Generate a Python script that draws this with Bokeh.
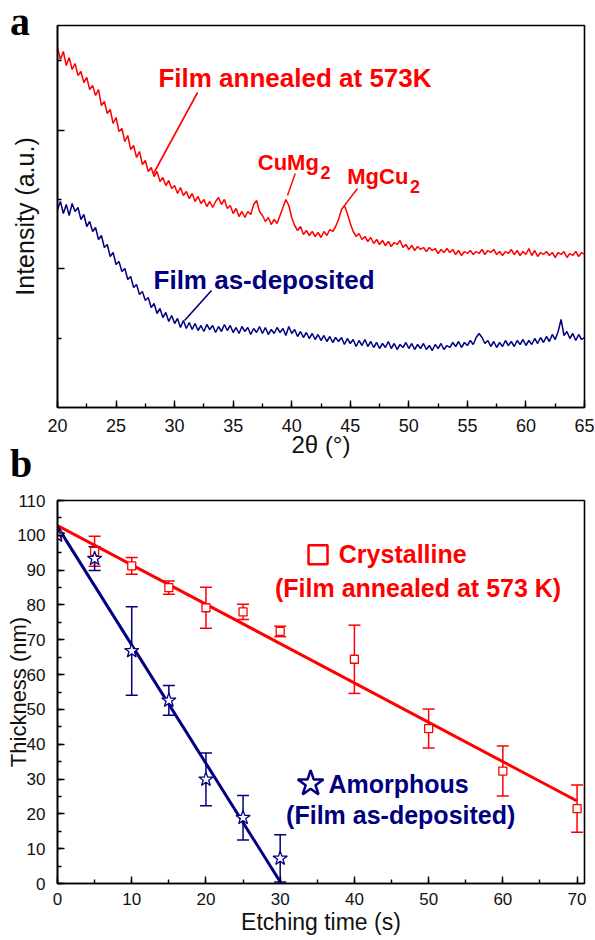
import numpy as np
from bokeh.plotting import figure
from bokeh.layouts import column
from bokeh.models import (ColumnDataSource, Whisker, TeeHead, SingleIntervalTicker,
                          FixedTicker, Label, CustomJSTickFormatter, Div)
from bokeh.embed import file_html
from bokeh.resources import INLINE

RED = "#ff0000"
NAVY = "#000080"
FONT = "Liberation Sans"

# ---------------- panel a : XRD patterns (arbitrary intensity units) ----------------
two_theta = np.linspace(20, 65, 181)  # 0.25 degree sampling
annealed = [
    360, 348, 356, 342,
    350, 338, 344, 332,
    336, 325, 330, 318,
    322, 312, 318, 302,
    306, 294, 298, 284,
    290, 276, 279, 266,
    272, 258, 262, 250,
    256, 243, 247, 236,
    240, 231, 236, 226,
    230, 222, 227, 219,
    222, 214, 220, 212,
    216, 209, 214, 206,
    211, 204, 208, 201,
    206, 200, 206, 210,
    203, 208, 199, 202,
    194, 199, 191, 196,
    190, 196, 193, 203,
    207, 196, 192, 186,
    190, 183, 188, 184,
    192, 200, 208, 202,
    190, 182, 177, 181,
    173, 177, 172, 176,
    171, 175, 170, 176,
    172, 178, 176, 181,
    188, 198, 202, 194,
    184, 176, 171, 174,
    168, 171, 166, 170,
    164, 168, 163, 167,
    162, 166, 161, 165,
    163, 167, 160, 163,
    158, 162, 157, 161,
    158, 160, 156, 160,
    157, 159, 154, 158,
    155, 159, 155, 158,
    153, 157, 152, 156,
    154, 157, 153, 156,
    154, 158, 153, 157,
    155, 158, 153, 156,
    152, 156, 154, 158,
    153, 157, 152, 156,
    153, 159, 152, 157,
    151, 155, 153, 156,
    152, 155, 150, 155,
    153, 156, 150, 154,
    152, 156, 151, 155,
    153,
]
deposited = [
    198, 206, 194, 203,
    192, 204, 196, 200,
    188, 193, 181, 186,
    176, 180, 168, 172,
    160, 163, 151, 155,
    143, 146, 136, 139,
    128, 131, 120, 123,
    113, 116, 107, 110,
    100, 104, 94, 99,
    90, 95, 86, 92,
    84, 89, 80, 87,
    79, 85, 78, 84,
    77, 82, 76, 83,
    78, 82, 75, 81,
    76, 83, 77, 82,
    75, 80, 74, 81,
    76, 80, 73, 79,
    75, 81, 74, 80,
    73, 78, 74, 80,
    75, 79, 72, 81,
    74, 78, 71, 76,
    70, 75, 69, 74,
    68, 73, 67, 72,
    66, 71, 65, 70,
    66, 70, 63, 69,
    64, 68, 61, 67,
    62, 68, 61, 66,
    60, 65, 59, 64,
    60, 66, 59, 64,
    58, 63, 60, 65,
    59, 64, 58, 63,
    59, 64, 58, 62,
    57, 63, 59, 64,
    58, 62, 60, 65,
    61, 66, 60, 65,
    62, 67, 63, 70,
    74, 70, 64, 67,
    61, 66, 60, 65,
    61, 67, 62, 66,
    61, 67, 63, 68,
    62, 67, 63, 69,
    64, 70, 65, 71,
    66, 73, 68, 76,
    88, 72, 76, 69,
    74, 67, 73, 68,
    70,
]
xrd_x_ticks_interval = 5
xrd_y_major = [139, 277]
xrd_y_minor = [69, 208, 347]

# ---------------- panel b : etching ----------------
red_time = [0, 5, 10, 15, 20, 25, 30, 40, 50, 60, 70]
red_thick = [100, 95.4, 91.2, 85.0, 79.2, 78.0, 72.4, 64.4, 44.5, 32.3, 21.5]
red_err = [0, 4.3, 2.4, 1.9, 5.9, 2.2, 1.5, 9.8, 5.6, 7.2, 6.8]
blue_time = [0, 5, 10, 15, 20, 25, 30]
blue_thick = [100, 93.3, 66.8, 52.6, 29.9, 18.9, 7.2]
blue_err = [0, 3.4, 12.7, 4.3, 7.6, 6.4, 6.8]
red_fit_x = [0, 70]
red_fit_y = [102.8, 23.7]
blue_fit_x = [0, 30]
blue_fit_y = [102.5, 0.5]


def style_axes(p, label_size, tick_size):
    p.xgrid.visible = False
    p.ygrid.visible = False
    p.outline_line_color = "black"
    p.outline_line_width = 1.6
    p.outline_line_alpha = 1.0
    p.background_fill_color = "white"
    p.border_fill_color = "white"
    for ax in (p.xaxis[0], p.yaxis[0]):
        ax.axis_line_width = 1.6
        ax.axis_line_color = "black"
        ax.major_tick_in = 7
        ax.major_tick_out = 0
        ax.minor_tick_in = 4
        ax.minor_tick_out = 0
        ax.major_tick_line_width = 1.4
        ax.minor_tick_line_width = 1.4
        ax.major_label_text_font = FONT
        ax.major_label_text_font_size = tick_size
        ax.major_label_text_color = "#111111"
        ax.axis_label_text_font = FONT
        ax.axis_label_text_font_style = "normal"
        ax.axis_label_text_font_size = label_size
        ax.axis_label_text_color = "#111111"


# ---- figure a ----
p1 = figure(width=595, height=474, x_range=(20, 65), y_range=(0, 382),
            output_backend="svg", toolbar_location=None,
            min_border_left=57, min_border_right=11, min_border_top=25, min_border_bottom=67)
style_axes(p1, "24px", "18px")
p1.xaxis.ticker = SingleIntervalTicker(interval=xrd_x_ticks_interval, num_minor_ticks=2)
p1.xaxis.major_label_standoff = 11
p1.xaxis.axis_label = "2θ (°)"
p1.xaxis.axis_label_standoff = -4
p1.yaxis.ticker = FixedTicker(ticks=xrd_y_major, minor_ticks=xrd_y_minor)
p1.yaxis.formatter = CustomJSTickFormatter(code="return ''")
p1.yaxis.major_label_standoff = 0
p1.yaxis.axis_label = "Intensity (a.u.)"
p1.yaxis.axis_label_text_font_size = "25px"
p1.yaxis.axis_label_standoff = 19

p1.line(two_theta, annealed, line_color=RED, line_width=1.5)
p1.line(two_theta, deposited, line_color=NAVY, line_width=1.5)

# pointer lines
p1.segment(x0=[31.96], y0=[315], x1=[28.2], y1=[234], line_color=RED, line_width=1.6)
p1.segment(x0=[33.15], y0=[117], x1=[30.85], y1=[87], line_color=NAVY, line_width=1.6)
p1.segment(x0=[40.3], y0=[234], x1=[39.64], y1=[212], line_color=RED, line_width=1.4)
p1.segment(x0=[45.62], y0=[219], x1=[44.5], y1=[202], line_color=RED, line_width=1.4)


def add_label(p, x, y, text, color, size, style="bold", font=FONT):
    p.add_layout(Label(x=x, y=y, text=text, text_color=color, text_font=font,
                       text_font_size=size, text_font_style=style,
                       text_baseline="middle", text_align="left"))


add_label(p1, 28.62, 330, "Film annealed at 573K", RED, "26px")
add_label(p1, 28.2, 127.5, "Film as-deposited", NAVY, "26px")
add_label(p1, 37.10, 245.3, "CuMg", RED, "22px")
add_label(p1, 42.46, 235.3, "2", RED, "18px")
add_label(p1, 44.74, 231.2, "MgCu", RED, "22px")
add_label(p1, 50.10, 221.0, "2", RED, "18px")

# ---- figure b ----
p2 = figure(width=595, height=464, x_range=(0, 71), y_range=(0, 110),
            output_backend="svg", toolbar_location=None,
            min_border_left=56, min_border_right=11, min_border_top=26, min_border_bottom=55)
style_axes(p2, "22px", "17px")
p2.xaxis.ticker = SingleIntervalTicker(interval=10, num_minor_ticks=2)
p2.yaxis.ticker = SingleIntervalTicker(interval=10, num_minor_ticks=2)
p2.xaxis.major_label_standoff = 9
p2.xaxis.axis_label = "Etching time (s)"
p2.xaxis.axis_label_text_font_size = "23px"
p2.xaxis.axis_label_standoff = 1
p2.yaxis.major_label_standoff = 12
p2.yaxis.axis_label = "Thickness (nm)"
p2.yaxis.axis_label_standoff = -17

p2.line(red_fit_x, red_fit_y, line_color=RED, line_width=3)
p2.line(blue_fit_x, blue_fit_y, line_color=NAVY, line_width=3)


def err_source(t, h, e):
    keep = [i for i in range(len(t)) if e[i] > 0]
    return ColumnDataSource(dict(
        t=[t[i] for i in keep],
        up=[h[i] + e[i] for i in keep],
        lo=[h[i] - e[i] for i in keep]))


for t, h, e, c in ((red_time, red_thick, red_err, RED), (blue_time, blue_thick, blue_err, NAVY)):
    src = err_source(t, h, e)
    w = Whisker(source=src, base="t", upper="up", lower="lo", line_color=c, line_width=1.5,
                upper_head=TeeHead(size=12, line_color=c, line_width=1.5),
                lower_head=TeeHead(size=12, line_color=c, line_width=1.5),
                level="underlay")
    p2.add_layout(w)

p2.scatter(red_time, red_thick, marker="square", size=8, line_color=RED,
           fill_color="white", line_width=1.3)
p2.scatter(blue_time, blue_thick, marker="star", size=15, line_color=NAVY,
           fill_color="white", line_width=1.3)

# legend-style annotations
p2.scatter([35.1], [94.4], marker="square", size=19, line_color=RED, fill_color=None, line_width=2.5)
add_label(p2, 37.9, 94.5, "Crystalline", RED, "25px")
add_label(p2, 29.3, 84.9, "(Film annealed at 573 K)", RED, "25px")
p2.scatter([34.1], [28.7], marker="star", size=27, line_color=NAVY, fill_color=None, line_width=2.5)
add_label(p2, 36.5, 28.6, "Amorphous", NAVY, "25px")
add_label(p2, 30.8, 19.8, "(Film as-deposited)", NAVY, "25px")

# panel letters
letter_style = {"position": "absolute", "margin": "0", "padding": "0",
                "font-family": "Liberation Serif", "font-weight": "bold",
                "font-size": "40px", "line-height": "44px", "color": "black",
                "z-index": "10"}
div_a = Div(text="a", styles=dict(letter_style, left="10px", top="0px"))
div_b = Div(text="b", styles=dict(letter_style, left="10px", top="442px"))

layout = column(p1, p2, div_a, div_b, spacing=0)
open("out.html", "w").write(file_html(layout, INLINE))
